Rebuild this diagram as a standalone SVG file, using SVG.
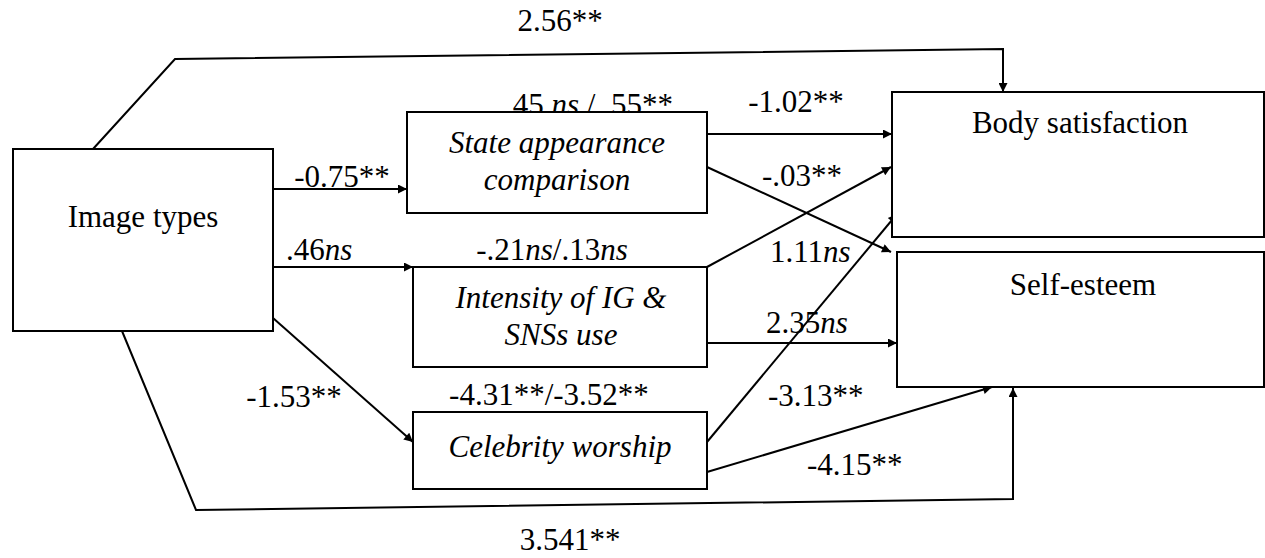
<svg xmlns="http://www.w3.org/2000/svg" width="1265" height="558" viewBox="0 0 1265 558">
<style>
text{font-family:"Liberation Serif","Times New Roman",serif;font-size:31px;fill:#000}
.it{font-style:italic}
.box{fill:#fff;stroke:#000;stroke-width:2}
.ln{fill:none;stroke:#000;stroke-width:2}
.ar{marker-end:url(#ah)}
.m{text-anchor:middle}
</style>
<defs>
<marker id="ah" viewBox="0 0 10 10" refX="10" refY="5" markerWidth="11" markerHeight="9" markerUnits="userSpaceOnUse" orient="auto">
<path d="M0,0 L10,5 L0,10 Z" fill="#000"/>
</marker>
</defs>
<rect width="1265" height="558" fill="#fff"/>
<g id="connectors">
<path class="ln ar" d="M273,189 H407"/>
<path class="ln ar" d="M273,267 H413"/>
<path class="ln ar" d="M273,318 L413,442"/>
<path class="ln ar" d="M707,134 H892"/>
<path class="ln ar" d="M707,167 L891,252"/>
<path class="ln ar" d="M707,267 L891,167"/>
<path class="ln ar" d="M707,343 H897"/>
<path class="ln ar" d="M707,442 L897,214"/>
<path class="ln ar" d="M707,472 L992,387"/>
<path class="ln ar" d="M93,149 L175,59 L1003,49 V92"/>
<path class="ln ar" d="M122,331 L196,510 L1013,499 V388"/>
<text class="m" x="560" y="31">2.56**</text>
<text x="505" y="115">.45 <tspan class="it">ns</tspan> / .55**</text>
<text class="m" x="796" y="112">-1.02**</text>
<text class="m" x="342" y="187">-0.75**</text>
<text class="m" x="802" y="186">-.03**</text>
<text x="286" y="260">.46<tspan class="it">ns</tspan></text>
<text class="m" x="552" y="260">-.21<tspan class="it">ns</tspan>/.13<tspan class="it">ns</tspan></text>
<text x="770" y="262">1.11<tspan class="it">ns</tspan></text>
<text class="m" x="294" y="407">-1.53**</text>
<text class="m" x="549" y="405">-4.31**/-3.52**</text>
<text x="768" y="406">-3.13**</text>
<text x="807" y="475">-4.15**</text>
<text class="m" x="570" y="550">3.541**</text>
</g>
<g id="image-types">
<rect class="box" x="13" y="149" width="260" height="182"/>
<text class="m" x="143" y="227">Image types</text>
</g>
<g id="state-appearance">
<rect class="box" x="407" y="112" width="300" height="101"/>
<text class="m it" x="557" y="153">State appearance</text>
<text class="m it" x="557" y="190">comparison</text>
</g>
<g id="intensity">
<rect class="box" x="413" y="267" width="294" height="100"/>
<text class="m it" x="561" y="308">Intensity of IG &amp;</text>
<text class="m it" x="561" y="345">SNSs use</text>
</g>
<g id="celebrity">
<rect class="box" x="413" y="412" width="294" height="77"/>
<text class="m it" x="560" y="457">Celebrity worship</text>
</g>
<g id="body-satisfaction">
<rect class="box" x="892" y="92" width="372" height="145"/>
<text class="m" x="1080" y="133">Body satisfaction</text>
</g>
<g id="self-esteem">
<rect class="box" x="897" y="252" width="367" height="135"/>
<text class="m" x="1083" y="295">Self-esteem</text>
</g>
<text x="766" y="333">2.35<tspan class="it">ns</tspan></text>
</svg>
